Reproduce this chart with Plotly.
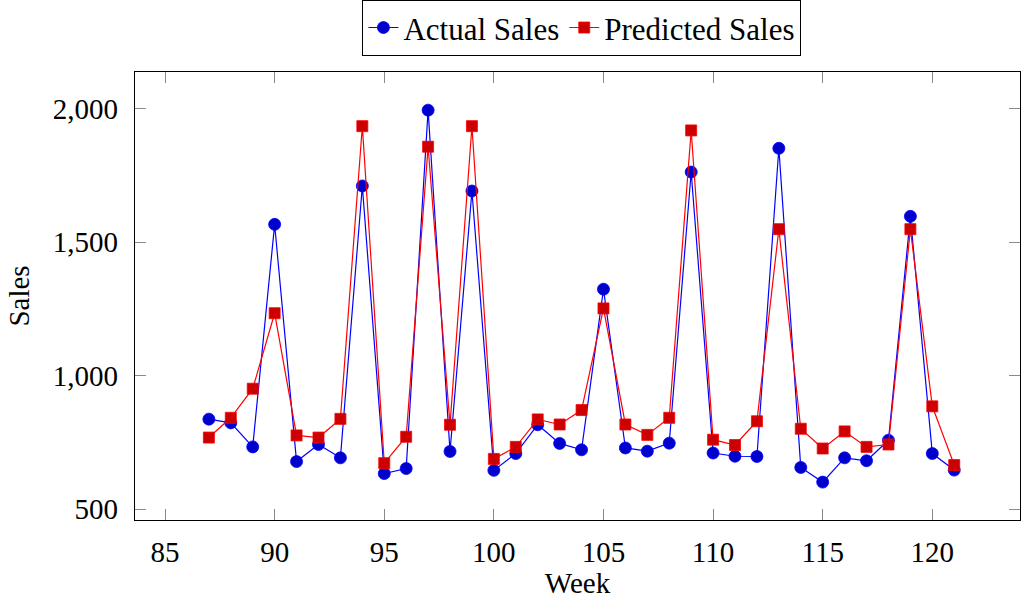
import plotly.graph_objects as go

# Weekly sales: observed vs. model forecast
weeks = list(range(87, 122))
actual_sales = [837, 823, 733, 1567, 678, 742, 692, 1711, 633, 652,
                1995, 716, 1692, 645, 708, 816, 746, 722, 1324, 729,
                717, 747, 1763, 710, 698, 697, 1852, 656, 601, 692,
                681, 758, 1597, 708, 646]
predicted_sales = [768, 842, 951, 1234, 776, 768, 838, 1935, 672, 771,
                   1858, 816, 1935, 688, 733, 836, 817, 871, 1252, 817,
                   778, 842, 1919, 760, 740, 829, 1549, 801, 727, 791,
                   733, 742, 1549, 885, 665]
x_ticks = [85, 90, 95, 100, 105, 110, 115, 120]
y_ticks = [500, 1000, 1500, 2000]

FONT = "Liberation Serif"

fig = go.Figure()
fig.add_trace(go.Scatter(
    x=weeks, y=actual_sales, name="Actual Sales", mode="lines+markers",
    line=dict(color="#0000FF", width=1.2),
    marker=dict(symbol="circle", size=12, color="#0000CC",
                line=dict(color="#0000FF", width=0.8)),
))
fig.add_trace(go.Scatter(
    x=weeks, y=predicted_sales, name="Predicted Sales", mode="lines+markers",
    line=dict(color="#FF0000", width=1.2),
    marker=dict(symbol="square", size=11, color="#CC0000",
                line=dict(color="#FF0000", width=0.8)),
))

axis_common = dict(
    showline=True, linecolor="black", linewidth=1.2, mirror="ticks",
    ticks="inside", ticklen=11, tickwidth=1, tickcolor="#8a8a8a",
    showgrid=False, zeroline=False,
    tickfont=dict(family=FONT, size=29, color="black"),
)

fig.update_layout(
    width=1021, height=599,
    margin=dict(l=135, r=1, t=72, b=79, autoexpand=False),
    paper_bgcolor="white", plot_bgcolor="white",
    font=dict(family=FONT, size=29, color="black"),
    showlegend=True,
    legend=dict(
        orientation="h", x=0.505, xanchor="center", y=1.161, yanchor="top",
        bordercolor="black", borderwidth=1, bgcolor="white",
        font=dict(family=FONT, size=31, color="black"),
        itemwidth=30, tracegroupgap=0,
    ),
    xaxis=dict(
        range=[83.63, 124.0], tickvals=x_ticks,
        title=dict(text="Week", font=dict(family=FONT, size=29), standoff=6),
        ticklabelstandoff=6,
        **axis_common,
    ),
    yaxis=dict(
        range=[459, 2138], tickvals=y_ticks, tickformat=",",
        title=dict(text="Sales", font=dict(family=FONT, size=29), standoff=14),
        ticklabelstandoff=10,
        **axis_common,
    ),
)

fig.write_html("out.html")
